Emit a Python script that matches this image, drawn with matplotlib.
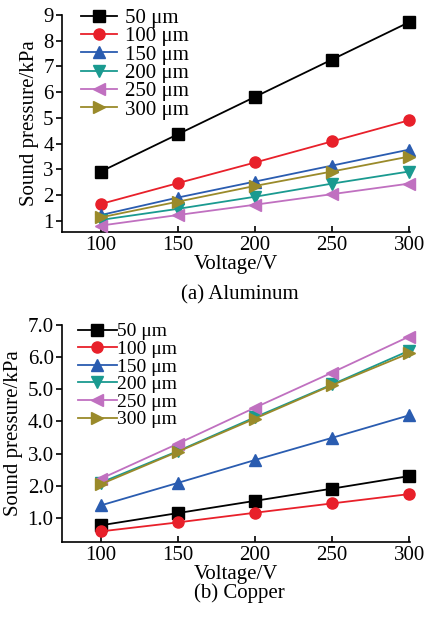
import matplotlib
matplotlib.use('Agg')
import matplotlib.pyplot as plt

plt.rcParams['font.family'] = ['Liberation Serif', 'DejaVu Serif']

voltage = [100, 150, 200, 250, 300]
labels = ['50 μm', '100 μm', '150 μm', '200 μm', '250 μm', '300 μm']
colors = ['#000000', '#e8202a', '#2a5cb0', '#1a9a90', '#c070c0', '#9a8a2a']
markers = ['s', 'o', '^', 'v', '<', '>']

# (a) Aluminum
al_50 = [2.92, 4.37, 5.82, 7.27, 8.72]
al_100 = [1.66, 2.47, 3.27, 4.09, 4.91]
al_150 = [1.23, 1.91, 2.53, 3.15, 3.77]
al_200 = [1.04, 1.47, 1.94, 2.45, 2.92]
al_250 = [0.82, 1.23, 1.63, 2.04, 2.45]
al_300 = [1.14, 1.75, 2.36, 2.92, 3.50]

# (b) Copper
cu_50 = [0.77, 1.15, 1.53, 1.91, 2.30]
cu_100 = [0.58, 0.86, 1.16, 1.45, 1.74]
cu_150 = [1.39, 2.09, 2.80, 3.49, 4.19]
cu_200 = [2.10, 3.08, 4.13, 5.15, 6.20]
cu_250 = [2.22, 3.31, 4.43, 5.52, 6.64]
cu_300 = [2.05, 3.06, 4.09, 5.13, 6.12]

al = [al_50, al_100, al_150, al_200, al_250, al_300]
cu = [cu_50, cu_100, cu_150, cu_200, cu_250, cu_300]

W, H = 428, 622
fig = plt.figure(figsize=(W / 100, H / 100), dpi=100)


def panel(rect, series, ylim, yticks, yfmt, caption, cap_y,
          leg_anchor, leg_font, leg_spacing, handlelen, textpad):
    ax = fig.add_axes(rect)
    for ys, lab, c, m in zip(series, labels, colors, markers):
        ax.plot(voltage, ys, color=c, marker=m, markersize=8, lw=1.3,
                label=lab, clip_on=False, zorder=3)
    ax.set_xlim(74.7, 300.6)
    ax.set_ylim(*ylim)
    ax.set_xticks(voltage)
    ax.set_yticks(yticks)
    ax.set_yticklabels([yfmt % v for v in yticks])
    for s in ['top', 'right']:
        ax.spines[s].set_visible(False)
    for s in ['left', 'bottom']:
        ax.spines[s].set_linewidth(1.2)
    ax.tick_params(axis='x', direction='in', length=4, width=1.2,
                   labelsize=15, pad=3)
    ax.tick_params(axis='y', direction='out', length=4, width=1.2,
                   labelsize=15, pad=2)
    ax.set_xlabel('Voltage/V', fontsize=15, labelpad=0)
    ax.set_ylabel('Sound pressure/kPa', fontsize=15, labelpad=3)
    ax.text(0.51, cap_y, caption, transform=ax.transAxes,
            ha='center', va='center', fontsize=15)
    ax.legend(loc='upper left', bbox_to_anchor=leg_anchor, frameon=False,
              fontsize=leg_font, handlelength=handlelen, handletextpad=textpad,
              labelspacing=leg_spacing, borderpad=0, borderaxespad=0)
    return ax


panel([62 / W, 1 - 232 / H, 348 / W, 217 / H], al, (0.57, 9),
      [1, 2, 3, 4, 5, 6, 7, 8, 9], '%d', '(a) Aluminum', -0.29,
      (0.055, 1.03), 15, -0.06, 1.7, 0.4)
panel([62 / W, 1 - 542 / H, 348 / W, 217 / H], cu, (0.25, 7.0),
      [1, 2, 3, 4, 5, 6, 7], '%.1f', '(b) Copper', -0.235,
      (0.045, 1.01), 14, 0.0, 2.0, 0.0)

fig.savefig('out.png', dpi=100, facecolor='white')
